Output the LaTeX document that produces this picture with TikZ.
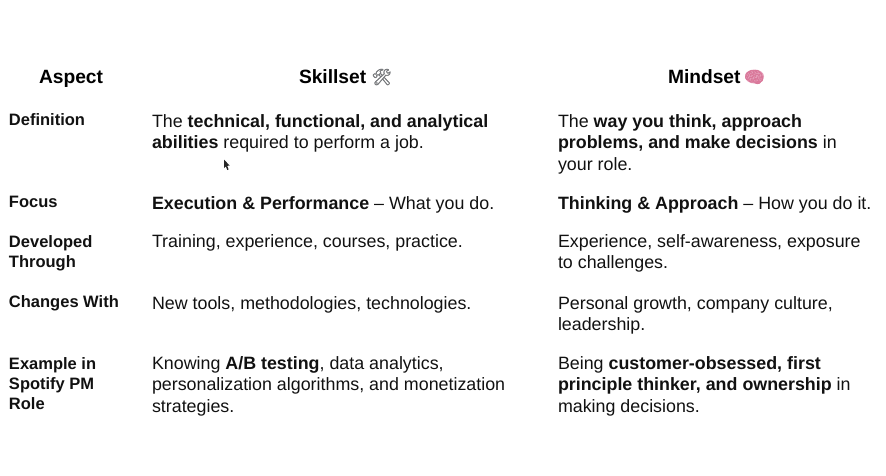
\documentclass[tikz,border=0pt]{standalone}
\usepackage{fontspec}
\setmainfont{Liberation Sans}
\newfontfamily\emojifont{Noto Emoji}
\newfontfamily\emojiheavy[FakeBold=1.5]{Noto Emoji}
\definecolor{inktext}{HTML}{111111}
\definecolor{toolgray}{HTML}{77797C}
\definecolor{brainpink}{HTML}{D9789A}
\definecolor{brainfill}{HTML}{E59DB8}
\tikzset{
  base cell/.style={anchor=north west,inner sep=0pt,outer sep=0pt,align=left,text=inktext},
  body cell/.style={base cell,font=\fontsize{17.85}{21.6}\selectfont},
  row label/.style={base cell,font=\fontsize{16.5}{20}\selectfont\bfseries},
  header/.style={anchor=base west,inner sep=0pt,outer sep=0pt,text=black,font=\fontsize{19.2}{23}\selectfont\bfseries},
  emoji/.style={anchor=base west,inner sep=0pt,outer sep=0pt,font=\fontsize{16}{23}\emojiheavy}
}
\begin{document}
\begin{tikzpicture}[x=1pt,y=-1pt]
\useasboundingbox (0,0) rectangle (886,475);
% headers
\node[header] (hAspect) at (39,83) {Aspect};
\node[header] (hSkill) at (299,83) {Skillset};
\node[emoji,text=toolgray] (eTool) at (371.5,82.5) {^^^^^^01f6e0};
\node[header] (hMind) at (668,83) {Mindset};
\fill[brainfill] (754.5,76.5) ellipse (9.5 and 7);
\node[emoji,text=brainpink] (eBrain) at (744,82.5) {^^^^^^01f9e0};
% row labels (first baseline = y + 0.7*20)
\node[row label] (lDef) at (9,111) {\strut Definition};
\node[row label] (lFocus) at (9,193) {\strut Focus};
\node[row label] (lDev) at (9,233) {\strut Developed\\Through};
\node[row label] (lChg) at (9,293.5) {\strut Changes With};
\node[row label] (lEx) at (9,355) {\strut Example in\\Spotify PM\\Role};
% skillset column (first baseline = y + 0.7*21.6)
\node[body cell] (sDef) at (152,112) {\strut The \textbf{technical, functional, and analytical}\\\textbf{abilities} required to perform a job.};
\node[body cell] (sFocus) at (152,194) {\strut \textbf{Execution \& Performance} – What you do.};
\node[body cell] (sDev) at (152,232) {\strut Training, experience, courses, practice.};
\node[body cell] (sChg) at (152,294) {\strut New tools, methodologies, technologies.};
\node[body cell] (sEx) at (152,354) {\strut Knowing \textbf{A/B testing}, data analytics,\\personalization algorithms, and monetization\\strategies.};
% mindset column
\node[body cell] (mDef) at (558,112) {\strut The \textbf{way you think, approach}\\\textbf{problems, and make decisions} in\\your role.};
\node[body cell] (mFocus) at (558,194) {\strut \textbf{Thinking \& Approach} – How you do it.};
\node[body cell] (mDev) at (558,232) {\strut Experience, self-awareness, exposure\\to challenges.};
\node[body cell] (mChg) at (558,294) {\strut Personal growth, company culture,\\leadership.};
\node[body cell] (mEx) at (558,354) {\strut Being \textbf{customer-obsessed, first}\\\textbf{principle thinker, and ownership} in\\making decisions.};
% mouse pointer
\fill[black!85] (224,159.5) -- (224,168) -- (225.8,166.3) -- (227.3,170) -- (228.6,169.4) -- (227.2,165.8) -- (229.6,165.6) -- cycle;
\end{tikzpicture}
\end{document}
